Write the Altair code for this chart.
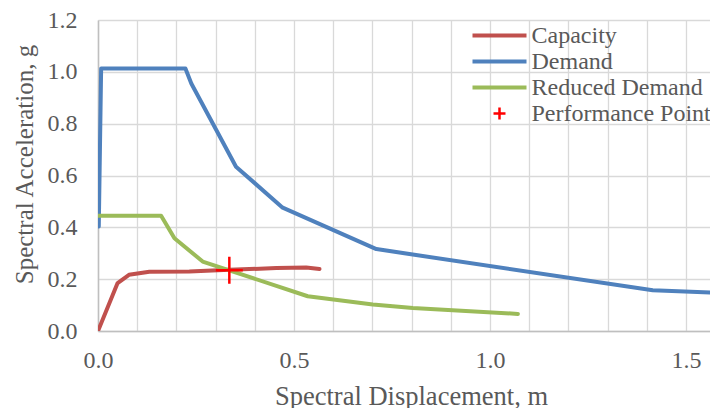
import altair as alt
import pandas as pd

SERIES = ["Capacity", "Demand", "Reduced Demand", "Performance Point"]
COLORS = ["#C0504D", "#4F81BD", "#9BBB59", "#FF0000"]

CAP_SD = [0.0, 0.050, 0.079, 0.131, 0.233, 0.335, 0.455, 0.531, 0.565]
CAP_SA = [0.0, 0.185, 0.217, 0.229, 0.230, 0.236, 0.243, 0.245, 0.239]

DEM_SD = [0.002, 0.008, 0.223, 0.238, 0.352, 0.471, 0.710, 1.415, 1.580]
DEM_SA = [0.403, 1.013, 1.013, 0.955, 0.634, 0.476, 0.316, 0.157, 0.147]

RED_SD = [0.0, 0.161, 0.195, 0.267, 0.535, 0.701, 0.803, 1.071]
RED_SA = [0.445, 0.445, 0.358, 0.268, 0.134, 0.102, 0.089, 0.066]

PP_SD = [0.335]
PP_SA = [0.234]

X_GRID = [0.0, 0.1, 0.2, 0.3, 0.4, 0.5, 0.6, 0.7, 0.8, 0.9, 1.0, 1.1, 1.2, 1.3, 1.4, 1.5]
X_LABELED = [0.0, 0.5, 1.0, 1.5]
Y_TICKS = [0.0, 0.2, 0.4, 0.6, 0.8, 1.0, 1.2]
X_MAX = 1.561
Y_MAX = 1.2

rows = []
for name, xs, ys in [("Capacity", CAP_SD, CAP_SA), ("Demand", DEM_SD, DEM_SA),
                     ("Reduced Demand", RED_SD, RED_SA)]:
    for i, (x, y) in enumerate(zip(xs, ys)):
        rows.append({"series": name, "sd": x, "sa": y, "idx": i})
line_df = pd.DataFrame(rows)
pp_df = pd.DataFrame({"series": ["Performance Point"] * len(PP_SD), "sd": PP_SD, "sa": PP_SA})

FONT = "Liberation Serif"
TXT = "#595959"

labeled = ",".join(str(v) for v in X_LABELED)
x_axis = alt.Axis(
    values=X_GRID,
    labelExpr=f"indexof([{labeled}], datum.value) >= 0 ? format(datum.value, '.1f') : ''",
    ticks=False, tickSize=0, labelPadding=36, labelBaseline="alphabetic",
    labelFontSize=24, labelFont=FONT, labelColor=TXT,
    title="Spectral Displacement, m", titleFont=FONT, titleFontSize=26.5,
    titleColor=TXT, titleFontWeight="normal", titleBaseline="alphabetic",
    titleX=313, titleY=73,
    gridColor="#D9D9D9", gridWidth=1.3, domainColor="#BFBFBF", domainWidth=1.5,
    labelOverlap=False, labelFlush=False,
)
y_axis = alt.Axis(
    values=Y_TICKS, format=".1f",
    ticks=False, tickSize=0, labelPadding=21, labelBaseline="middle",
    labelFontSize=24, labelFont=FONT, labelColor=TXT,
    title="Spectral Acceleration, g", titleFont=FONT, titleFontSize=25,
    titleColor=TXT, titleFontWeight="normal", titleBaseline="alphabetic",
    titleAngle=270, titleX=-66, titleY=144,
    gridColor="#D9D9D9", gridWidth=1.3, domainColor="#BFBFBF", domainWidth=1.5,
    labelOverlap=False, labelFlush=False,
)

IS_PP = "datum.value === 'Performance Point'"
PLUS = "M-0.222,0H0.222M0,-0.222V0.222"
legend = alt.Legend(
    title=None, orient="none", legendX=372.5, legendY=2.5,
    symbolType={"expr": f"({IS_PP} ? '{PLUS}' : 'stroke')"},
    symbolSize=2916,
    symbolStrokeWidth={"expr": f"({IS_PP} ? 2.5 : 4)"},
    symbolOpacity=1,
    clipHeight=26, rowPadding=0, padding=0, labelOffset=3,
    labelFont=FONT, labelFontSize=24, labelColor=TXT, labelLimit=400,
)

color = alt.Color("series:N", scale=alt.Scale(domain=SERIES, range=COLORS), legend=legend)
x_scale = alt.Scale(domain=[0, X_MAX], nice=False, zero=False)
y_scale = alt.Scale(domain=[0, Y_MAX], nice=False)

lines = alt.Chart(line_df).mark_line(
    strokeWidth=4, strokeJoin="round", strokeCap="round", clip=True
).encode(
    x=alt.X("sd:Q", scale=x_scale, axis=x_axis),
    y=alt.Y("sa:Q", scale=y_scale, axis=y_axis),
    color=color,
    order="idx:Q",
)

pp = alt.Chart(pp_df).mark_point(
    shape="M-1,0H1M0,-1V1", size=729, strokeWidth=2.5, filled=False, opacity=1
).encode(
    x=alt.X("sd:Q", scale=x_scale),
    y=alt.Y("sa:Q", scale=y_scale),
    color=color,
)

chart = alt.layer(lines, pp).properties(
    width=612, height=311,
    autosize=alt.AutoSizeParams(type="none"),
    padding={"left": 90, "top": 12, "right": 0, "bottom": 77},
    background="white",
).configure(
    font=FONT
).configure_axis(
    labelFont=FONT, titleFont=FONT
).configure_legend(
    labelFont=FONT
).configure_view(strokeWidth=0)

chart.save("out.html", embed_options={"renderer": "svg", "actions": False})
